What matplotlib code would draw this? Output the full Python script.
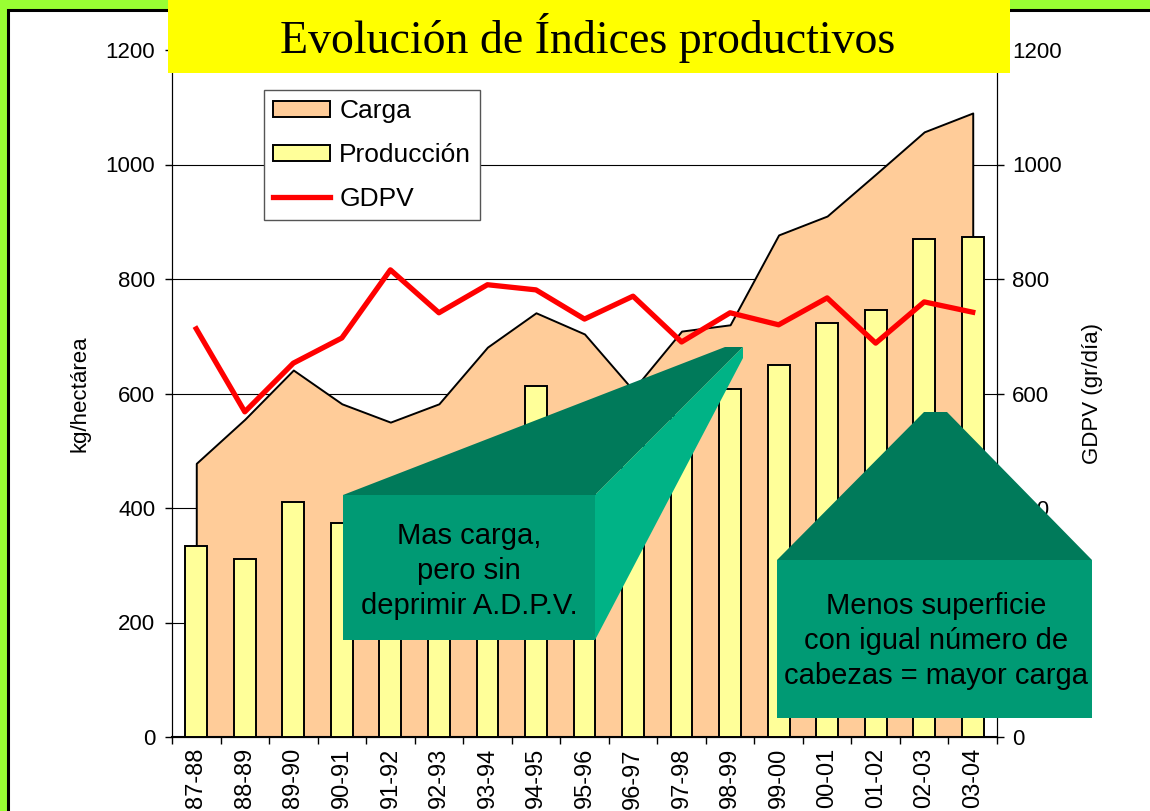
import matplotlib.pyplot as plt
from matplotlib.patches import Rectangle, Polygon
import numpy as np

plt.rcParams['font.family'] = ['Liberation Sans', 'DejaVu Sans']

# Data
campanas = ['87-88', '88-89', '89-90', '90-91', '91-92', '92-93', '93-94', '94-95', '95-96',
            '96-97', '97-98', '98-99', '99-00', '00-01', '01-02', '02-03', '03-04']
carga = [478, 555, 641, 582, 550, 582, 681, 741, 704, 606, 709, 720, 877, 910, 983, 1057, 1090]
produccion = [333, 311, 410, 374, 400, 430, 470, 613, 540, 520, 560, 608, 650, 723, 746, 870, 873]
gdpv = [713, 568, 653, 697, 816, 741, 790, 781, 730, 770, 690, 741, 720, 767, 688, 760, 742]

W, H = 1150, 811


def fx(px):
    return px / W


def fy(py):
    return 1 - py / H


fig = plt.figure(figsize=(11.5, 8.11), dpi=100, facecolor='#99FF33')

# slide frame
fig.patches.append(Rectangle((fx(8), -0.05), 1.1, fy(10) + 0.05, transform=fig.transFigure,
                             facecolor='white', edgecolor='black', linewidth=2.2, zorder=-1))

ax = fig.add_axes([fx(172), fy(737), fx(997) - fx(172), fy(50) - fy(737)])
ax.set_facecolor('none')
x = np.arange(len(campanas))

ax.fill_between(x, carga, 0, facecolor='#FFCC99', edgecolor='black', linewidth=1.4,
                zorder=2, label='Carga')
ax.bar(x, produccion, width=0.45, color='#FFFF99', edgecolor='black', linewidth=1.4,
       zorder=3, label='Producción')

ax.set_xlim(-0.5, len(campanas) - 0.5)
ax.set_ylim(0, 1200)
ax.set_yticks(range(0, 1201, 200))
ax.grid(axis='y', color='black', linewidth=0.8, zorder=0)
ax.set_axisbelow(True)
ax.set_xticks(x)
ax.set_xticklabels(campanas, rotation=90, fontsize=17, va='top')
ax.set_xticks(np.arange(-0.5, len(campanas), 1), minor=True)
ax.tick_params(axis='x', which='major', length=0, pad=8)
ax.tick_params(axis='x', which='minor', length=5, width=1, direction='out')
ax.tick_params(axis='y', length=5, width=1, direction='out', labelsize=16, pad=7)
ax.spines['top'].set_visible(False)
ax.spines['bottom'].set_linewidth(1.5)
ax.set_ylabel('kg/hectárea', fontsize=16)
ax.yaxis.set_label_coords((91 - 172) / 825, 0.5)

ax2 = ax.twinx()
ax2.set_ylim(0, 1200)
ax2.set_yticks(range(0, 1201, 200))
# the 200 label sits fully behind the second callout
ax2.set_yticklabels(['0', '', '400', '600', '800', '1000', '1200'])
ax2.plot(x, gdpv, color='#FF0000', linewidth=3.8, zorder=5, label='GDPV')
ax2.tick_params(axis='y', length=5, width=1, direction='out', labelsize=16, pad=6)
ax2.spines['top'].set_visible(False)
ax2.set_ylabel('GDPV (gr/día)', fontsize=16, rotation=90)
ax2.yaxis.set_label_coords((1082 - 172) / 825, 0.5)

h1, l1 = ax.get_legend_handles_labels()
h2, l2 = ax2.get_legend_handles_labels()
leg = ax2.legend(h1 + h2, l1 + l2, loc='upper left',
                 bbox_to_anchor=((264 - 172) / 825, (737 - 90) / 687), borderaxespad=0,
                 fontsize=19, fancybox=False, framealpha=1, edgecolor='#555555',
                 handlelength=2.15, handleheight=0.55, handletextpad=0.35,
                 labelspacing=0.75, borderpad=0.35)
leg.get_frame().set_linewidth(1.0)

# title box
fig.patches.append(Rectangle((fx(168), fy(73)), fx(1010) - fx(168), fy(0) - fy(73) + 0.01,
                             transform=fig.transFigure, facecolor='#FFFF00', edgecolor='none', zorder=5))
fig.text(fx(588), fy(38), 'Evolución de Índices productivos', family='Liberation Serif',
         fontsize=33, ha='center', va='center', zorder=6)

# callouts
dark, mid, light = '#007A5A', '#009A74', '#00B386'


def poly(pts, color):
    fig.patches.append(Polygon([(fx(a), fy(b)) for a, b in pts], closed=True,
                               transform=fig.transFigure, facecolor=color, edgecolor='none', zorder=7))


poly([(343, 495), (595, 495), (743, 347), (725, 347)], dark)
poly([(595, 495), (743, 347), (743, 358), (595, 640)], light)
poly([(343, 495), (595, 495), (595, 640), (343, 640)], mid)
fig.text(fx(469), fy(571), 'Mas carga,\npero sin\ndeprimir A.D.P.V.', fontsize=21,
         ha='center', va='center', linespacing=1.3, zorder=8)

poly([(777, 560), (1092, 560), (947, 412), (924, 412)], dark)
poly([(777, 560), (1092, 560), (1092, 718), (777, 718)], mid)
fig.text(fx(936), fy(641), 'Menos superficie\ncon igual número de\ncabezas = mayor carga', fontsize=21,
         ha='center', va='center', linespacing=1.3, zorder=8)

fig.savefig('out.png', dpi=100, facecolor=fig.get_facecolor())
